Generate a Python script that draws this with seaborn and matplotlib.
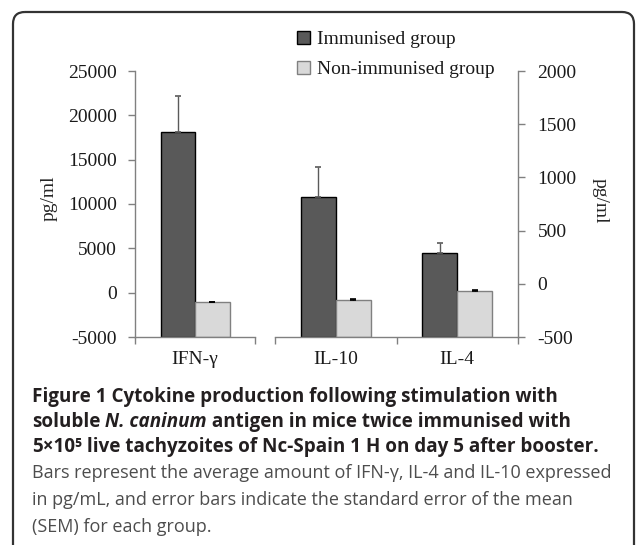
""" Cytokine production bar chart with a boxed figure caption. """

import matplotlib

matplotlib.use("Agg")
import matplotlib.pyplot as plt
import pandas as pd
import seaborn as sns
from matplotlib.container import BarContainer
from matplotlib.offsetbox import AnnotationBbox, HPacker, TextArea
from matplotlib.patches import FancyBboxPatch

cytokines = ["IFN-γ", "IL-10", "IL-4"]
groups = ["Immunised group", "Non-immunised group"]
immunised = [18100, 815, 285]
immunised_sem = [4050, 280, 100]
non_immunised = [-1100, -150, -70]
non_immunised_sem = [100, 10, 10]

left_ticks = [-5000, 0, 5000, 10000, 15000, 20000, 25000]
right_ticks = [-500, 0, 500, 1000, 1500, 2000]
y_label = "pg/ml"

W, H = 636, 545
DARK, LIGHT = "#595959", "#d9d9d9"
SPINE = "#808080"
SERIF = ["Liberation Serif", "DejaVu Serif"]
SANS = ["Open Sans", "DejaVu Sans"]

BOLD = dict(fontfamily=SANS, fontweight="bold", fontsize=13.6, color="#231f20")
ITAL = dict(BOLD, fontstyle="italic")
REG = dict(fontfamily=SANS, fontweight="normal", fontsize=13.0, color="#4d4d4d")

caption = [
    [("Figure 1 Cytokine production following stimulation with", BOLD)],
    [("soluble", BOLD), (" N. caninum", ITAL),
     (" antigen in mice twice immunised with", BOLD)],
    [("5×10\u2075", BOLD),
     (" live tachyzoites of Nc-Spain 1 H on day 5 after booster.", BOLD)],
    [("Bars represent the average amount of IFN-γ, IL-4 and IL-10 expressed", REG)],
    [("in pg/mL, and error bars indicate the standard error of the mean", REG)],
    [("(SEM) for each group.", REG)],
]
caption_y = [397, 422, 447, 473, 500, 527]

df = pd.DataFrame({
    "cytokine": cytokines * 2,
    "group": [groups[0]] * 3 + [groups[1]] * 3,
    "value": immunised + non_immunised,
    "sem": immunised_sem + non_immunised_sem,
})


def px_rect(x0, y0, x1, y1):
    return [x0 / W, 1 - y1 / H, (x1 - x0) / W, (y1 - y0) / H]


def draw_panel(ax, sub, ymin, ymax, ticks):
    # excel style: bars grow from the bottom of the axis, not from zero
    sub = sub.assign(height=sub["value"] - ymin)
    names = list(dict.fromkeys(sub["cytokine"]))
    sns.barplot(data=sub, x="cytokine", y="height", hue="group", hue_order=groups,
                palette=[DARK, LIGHT], saturation=1, width=0.575, bottom=ymin,
                linewidth=1, edgecolor="black", legend=False, ax=ax)

    bars = [c for c in ax.containers if isinstance(c, BarContainer)]
    for container, group, ecol, cap in zip(bars, groups, ["#5a5a5a", "black"], [2.2, 2.0]):
        rows = sub[sub["group"] == group]
        for bar, (_, row) in zip(container, rows.iterrows()):
            if group == groups[1]:
                bar.set_edgecolor("#808080")
            x = bar.get_x() + bar.get_width() / 2
            ax.errorbar(x, row["value"], yerr=[[0], [row["sem"]]], fmt="none",
                        ecolor=ecol, elinewidth=1.0, capsize=cap, capthick=1.2,
                        zorder=3)

    n = len(names)
    ax.set_xlim(-0.5, n - 0.5)
    ax.set_xticks([i - 0.5 for i in range(n + 1)], labels=[""] * (n + 1))
    ax.set_xticks(range(n), labels=names, minor=True)
    ax.tick_params(axis="x", which="major", length=5, width=1, color=SPINE)
    ax.tick_params(axis="x", which="minor", length=0, pad=10, labelsize=14)
    ax.set_xlabel("")

    ax.set_ylim(ymin, ymax)
    ax.set_yticks(ticks)
    ax.tick_params(axis="y", length=5, width=1, color=SPINE, labelsize=14, pad=8)
    ax.set_ylabel(y_label, fontsize=14)
    ax.yaxis.label.set_va("center")
    ax.yaxis.label.set_rotation_mode("default")

    ax.spines["top"].set_visible(False)
    for side in ["left", "right", "bottom"]:
        ax.spines[side].set_color(SPINE)
        ax.spines[side].set_linewidth(1)
    ax.patch.set_alpha(0)
    return bars


sns.set_style("ticks")
plt.rcParams["font.family"] = SERIF
plt.rcParams["font.size"] = 14
plt.rcParams["axes.unicode_minus"] = False
plt.rcParams["text.color"] = "#1a1a1a"
plt.rcParams["xtick.color"] = "#1a1a1a"
plt.rcParams["ytick.color"] = "#1a1a1a"

fig = plt.figure(figsize=(W / 100, H / 100), dpi=100)

frame = fig.add_axes([0, 0, 1, 1])
frame.set_xlim(0, W)
frame.set_ylim(H, 0)
frame.axis("off")
frame.add_patch(FancyBboxPatch((13, 12), 621, 560,
                               boxstyle="round,pad=0,rounding_size=12",
                               fill=False, lw=1.6, ec="#333333"))

ax_l = fig.add_axes(px_rect(135, 71, 255, 337))
ax_r = fig.add_axes(px_rect(275, 71, 518, 337))

left_bars = draw_panel(ax_l, df[df["cytokine"] == cytokines[0]], -5000, 25000, left_ticks)
ax_l.spines["right"].set_visible(False)
ax_l.yaxis.set_label_coords(-0.717, 0.52)

draw_panel(ax_r, df[df["cytokine"] != cytokines[0]], -500, 2000, right_ticks)
ax_r.spines["left"].set_visible(False)
ax_r.yaxis.tick_right()
ax_r.yaxis.set_label_position("right")
ax_r.tick_params(axis="y", pad=9)
ax_r.yaxis.label.set_rotation(270)
ax_r.yaxis.set_label_coords(1.375, 0.513)

handles = [c.patches[0] for c in left_bars]
fig.legend(handles, groups, loc="upper left", bbox_to_anchor=(297 / W, 1 - 31 / H),
           frameon=False, fontsize=14, handlelength=0.65, handleheight=0.65,
           handletextpad=0.4, labelspacing=0.65, borderpad=0, borderaxespad=0)

for y, pieces in zip(caption_y, caption):
    line = HPacker(children=[TextArea(t, textprops=p) for t, p in pieces],
                   align="baseline", pad=0, sep=0)
    frame.add_artist(AnnotationBbox(line, (32 / W, 1 - y / H), xycoords="figure fraction",
                                    box_alignment=(0, 0.5), frameon=False, pad=0))

fig.savefig("out.png", dpi=100)
